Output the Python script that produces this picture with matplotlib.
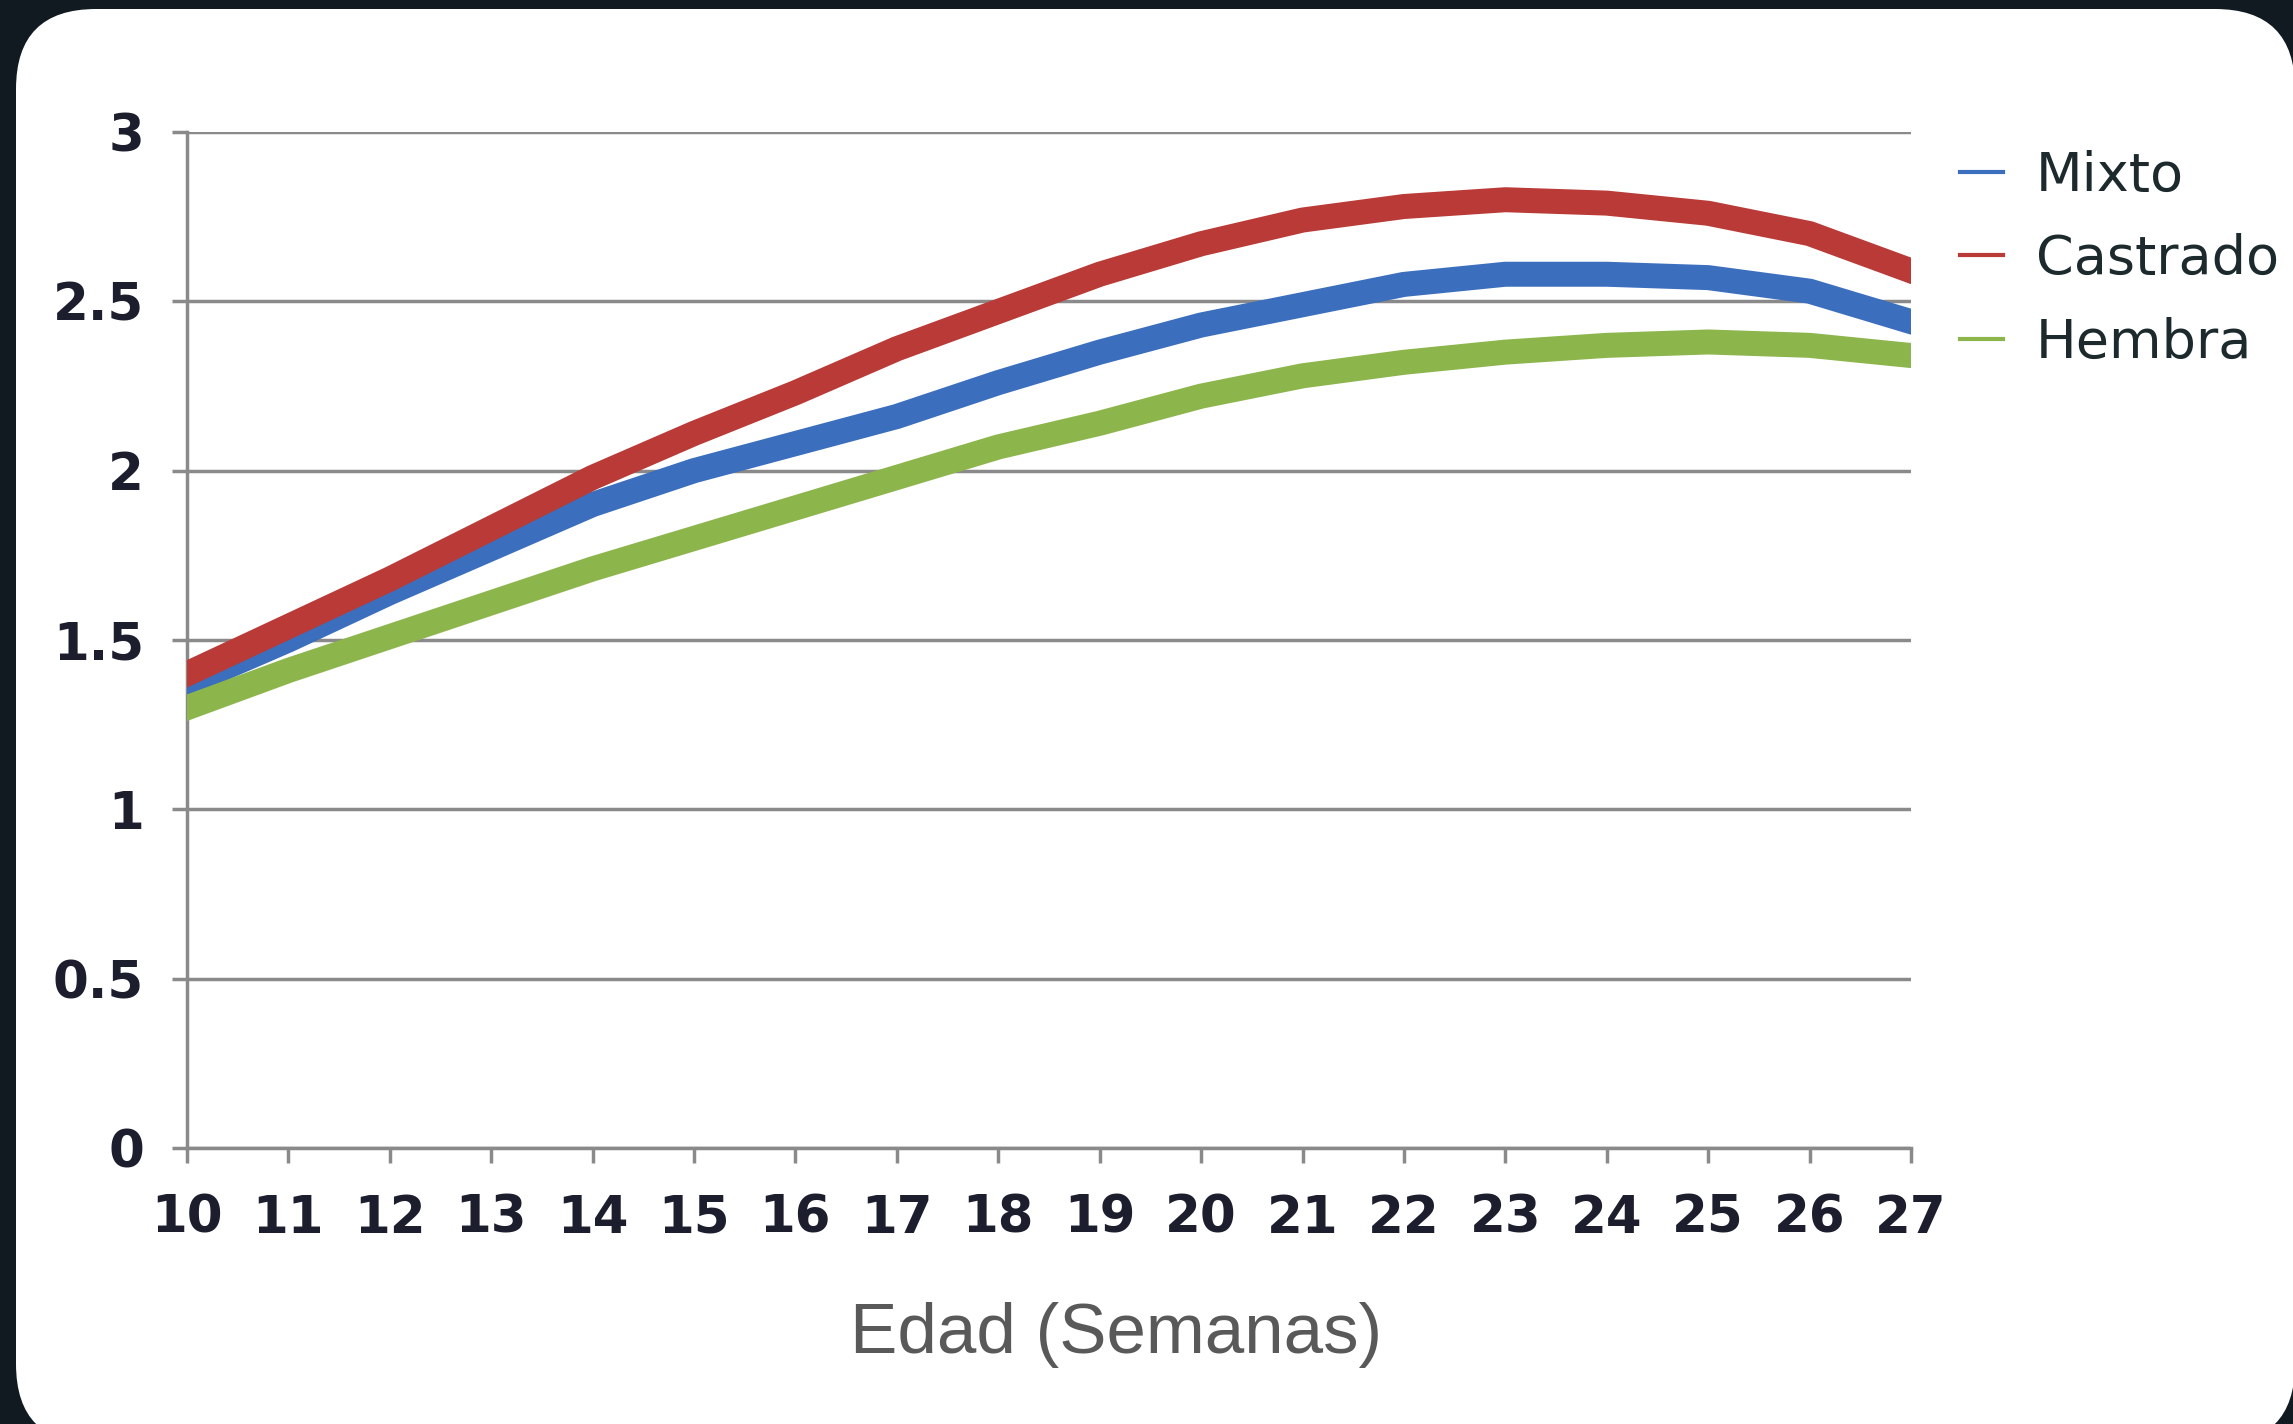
import matplotlib
matplotlib.use('Agg')
import matplotlib.pyplot as plt
from matplotlib.patches import FancyBboxPatch
from matplotlib.lines import Line2D
from matplotlib.transforms import IdentityTransform
from matplotlib.ticker import FuncFormatter

# datos
semanas = [10, 11, 12, 13, 14, 15, 16, 17, 18, 19, 20, 21, 22, 23, 24, 25, 26, 27]
mixto = [1.37, 1.50, 1.64, 1.77, 1.90, 2.00, 2.08, 2.16, 2.26, 2.35, 2.43, 2.49, 2.55, 2.58, 2.58, 2.57, 2.53, 2.44]
castrado = [1.40, 1.54, 1.68, 1.83, 1.98, 2.11, 2.23, 2.36, 2.47, 2.58, 2.67, 2.74, 2.78, 2.80, 2.79, 2.76, 2.70, 2.59]
hembra = [1.30, 1.41, 1.51, 1.61, 1.71, 1.80, 1.89, 1.98, 2.07, 2.14, 2.22, 2.28, 2.32, 2.35, 2.37, 2.38, 2.37, 2.34]
nombres = ['Mixto', 'Castrado', 'Hembra']
colores = ['#3b6ebd', '#b93a36', '#8cb54b']
yticks = [0, 0.5, 1, 1.5, 2, 2.5, 3]

W, H = 2293, 1424
fig = plt.figure(figsize=(W / 100, H / 100), dpi=100)
fig.patch.set_facecolor('#111a21')

# tarjeta blanca redondeada
card = FancyBboxPatch((16, -20), W - 16 + 2, H - 9 + 20,
                      boxstyle='round,pad=0,rounding_size=80',
                      transform=IdentityTransform(), facecolor='white',
                      edgecolor='none', zorder=-10)
fig.patches.append(card)

ax = fig.add_axes([187 / W, 1 - 1148 / H, (1911 - 187) / W, (1148 - 132) / H])
ax.set_facecolor('none')

for serie, c in zip([mixto, castrado, hembra], colores):
    ax.plot(semanas, serie, color=c, lw=18, zorder=3)

ax.set_xlim(10, 27)
ax.set_ylim(0, 3)
ax.set_xticks(semanas)
ax.set_yticks(yticks)
ax.yaxis.set_major_formatter(FuncFormatter(lambda v, p: '%g' % v))
ax.grid(axis='y', color='#8a8a8a', lw=2.5, zorder=1)
for s in ['top', 'right']:
    ax.spines[s].set_visible(False)
for s in ['left', 'bottom']:
    ax.spines[s].set_color('#8a8a8a')
    ax.spines[s].set_linewidth(2.5)
ax.tick_params(axis='both', color='#8a8a8a', width=2.5, length=11)
ax.tick_params(axis='y', pad=20)
ax.tick_params(axis='x', pad=22)
for lab in ax.get_xticklabels() + ax.get_yticklabels():
    lab.set_fontfamily('DejaVu Sans')
    lab.set_fontweight('bold')
    lab.set_fontsize(37)
    lab.set_color('#1c1e2e')

ax.set_xlabel('Edad (Semanas)', fontsize=51, family='Liberation Sans',
              color='#595959')
ax.xaxis.set_label_coords(0.539, -0.152)

handles = [Line2D([], [], color=c, lw=3) for c in colores]
fig.legend(handles, nombres, loc='upper left', bbox_to_anchor=(1960 / W, 1 - 150 / H),
           frameon=False, handlelength=0.8, handletextpad=0.6,
           labelspacing=0.58, borderpad=0, borderaxespad=0,
           prop={'family': 'DejaVu Sans', 'size': 39})
for t in fig.legends[0].get_texts():
    t.set_color('#1c2a2e')

fig.savefig('out.png', dpi=100, facecolor=fig.get_facecolor())
